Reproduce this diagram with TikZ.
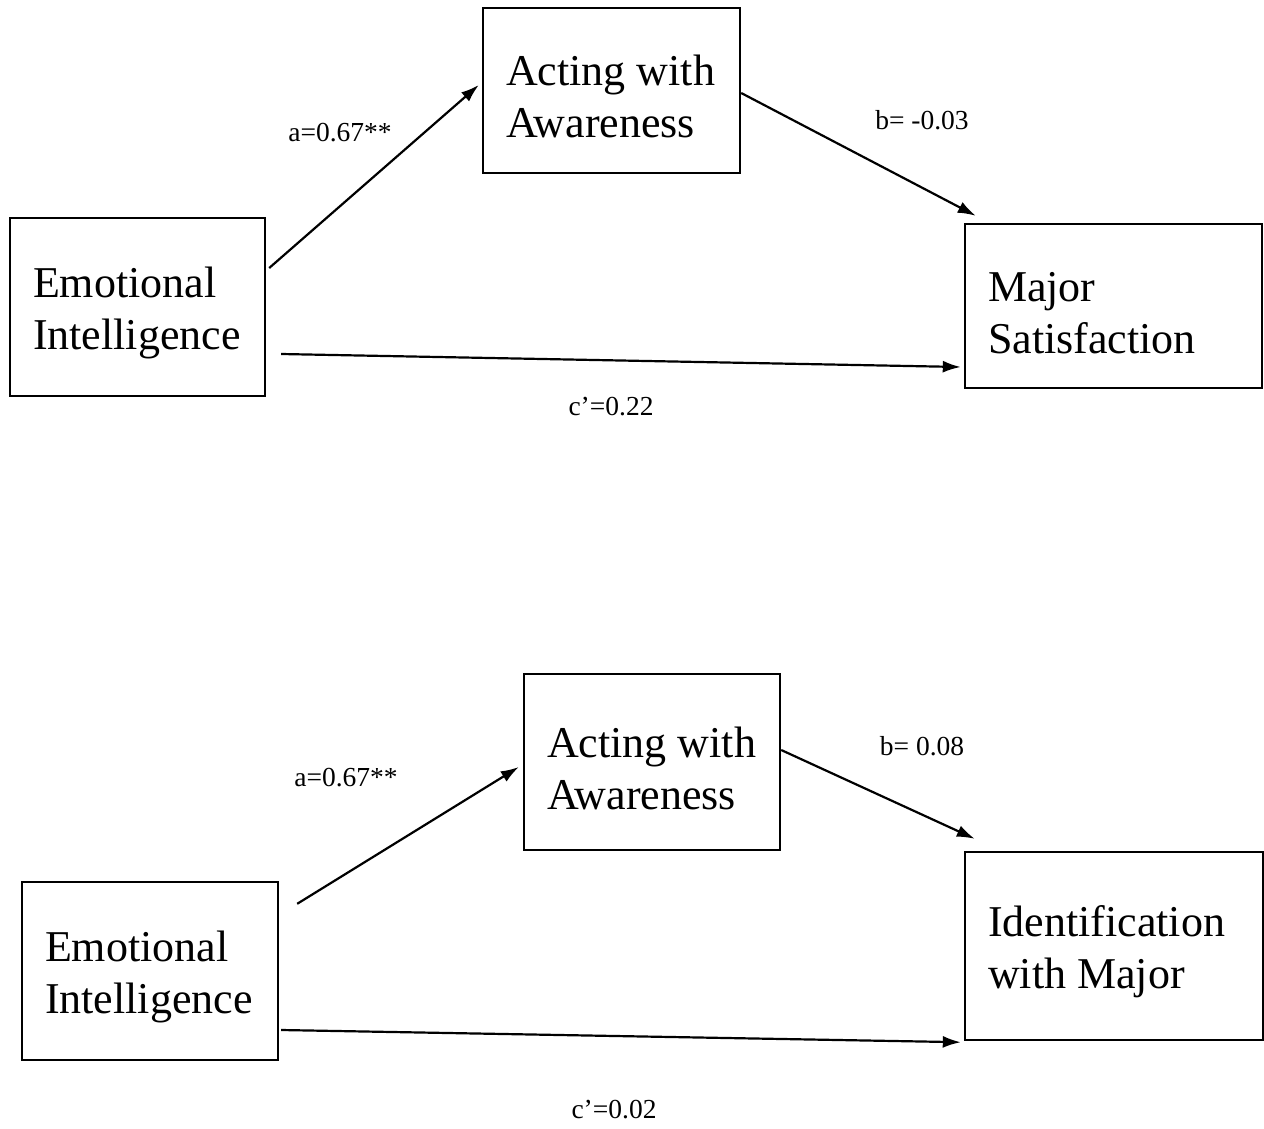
\documentclass[tikz,border=0pt]{standalone}
\usepackage{fontspec}
\setmainfont{Liberation Serif}
\usetikzlibrary{arrows.meta}
\begin{document}
\begin{tikzpicture}[x=1pt,y=-1pt,
  box/.style={draw,line width=2.4pt,rectangle,align=flush left,inner xsep=23pt,inner ysep=0pt,
    font=\fontsize{44}{52}\selectfont,execute at begin node={\rule{0pt}{43pt}}},
  conn/.style={line width=2.2pt,-{Latex[length=18pt,width=12pt]}},
  lbl/.style={inner sep=0pt,font=\fontsize{27.5}{30}\selectfont}]
\useasboundingbox (0,0) rectangle (1264,1128);
% top diagram
\node[box,text width=209pt,minimum height=178pt] (ei1) at (137.5,307) {Emotional\\Intelligence};
\node[box,text width=211pt,minimum height=165pt] (aw1) at (611.5,90.5) {Acting with\\Awareness};
\node[box,text width=251pt,minimum height=164pt] (ms) at (1113.5,306) {Major\\Satisfaction};
\draw[conn] ([shift={(3,-39)}]ei1.east) -- ([shift={(-3,-5.5)}]aw1.west);
\draw[conn] ([shift={(0,2.5)}]aw1.east) -- ([shift={(12,-7)}]ms.north west);
\draw[conn] ([shift={(15,47)}]ei1.east) -- ([shift={(-3,61)}]ms.west);
\node[lbl] (la1) at (340,133) {a=0.67**};
\node[lbl] (lb1) at (922,120) {b= -0.03};
\node[lbl] (lc1) at (611,407) {c’=0.22};
% bottom diagram
\node[box,text width=210pt,minimum height=176pt] (aw2) at (652,762) {Acting with\\Awareness};
\node[box,text width=210pt,minimum height=178pt] (ei2) at (150,971) {Emotional\\Intelligence};
\node[box,text width=252pt,minimum height=188pt] (iwm) at (1114,946) {Identification\\with Major};
\draw[conn] ([shift={(18,23)}]ei2.north east) -- ([shift={(-4,5)}]aw2.west);
\draw[conn] ([shift={(0,-12)}]aw2.east) -- ([shift={(11,-12)}]iwm.north west);
\draw[conn] ([shift={(2,59)}]ei2.east) -- ([shift={(-3,1)}]iwm.south west);
\node[lbl] (la2) at (346,778) {a=0.67**};
\node[lbl] (lb2) at (922,746) {b= 0.08};
\node[lbl] (lc2) at (614,1110) {c’=0.02};
\end{tikzpicture}
\end{document}
